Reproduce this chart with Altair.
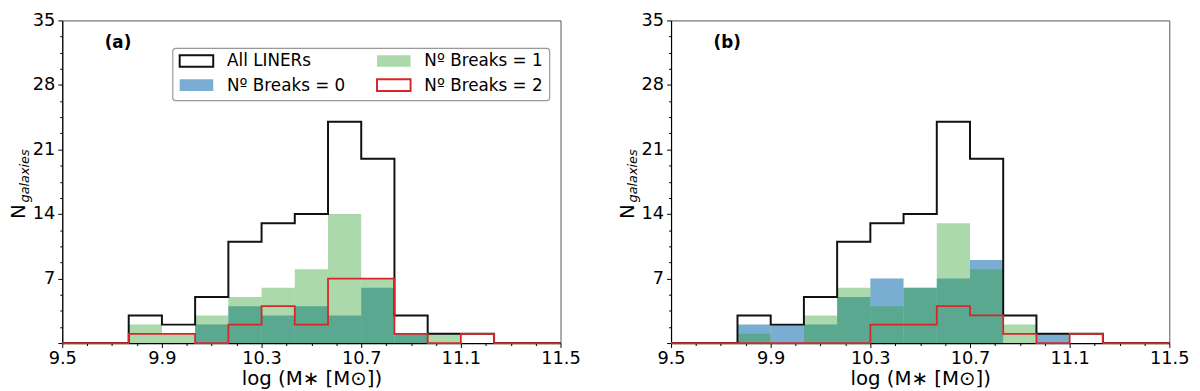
import altair as alt
import pandas as pd

# ---------------- data ----------------
bin_edges = [9.5, 9.6333, 9.7667, 9.9, 10.0333, 10.1667, 10.3, 10.4333,
             10.5667, 10.7, 10.8333, 10.9667, 11.1, 11.2333, 11.3667, 11.5]

# panel (a)
all_a = [0, 0, 3, 2, 5, 11, 13, 14, 24, 20, 3, 1, 1, 0, 0]
brk0_a = [0, 0, 0, 0, 2, 4, 3, 4, 3, 6, 1, 0, 0, 0, 0]
brk1_a = [0, 0, 2, 1, 3, 5, 6, 8, 14, 7, 1, 1, 0, 0, 0]
brk2_a = [0, 0, 1, 1, 0, 2, 4, 2, 7, 7, 1, 0, 1, 0, 0]

# panel (b)
all_b = [0, 0, 3, 2, 5, 11, 13, 14, 24, 20, 3, 1, 1, 0, 0]
brk0_b = [0, 0, 2, 2, 2, 5, 7, 6, 7, 9, 0, 1, 0, 0, 0]
brk1_b = [0, 0, 1, 0, 3, 6, 4, 6, 13, 8, 2, 0, 0, 0, 0]
brk2_b = [0, 0, 0, 0, 0, 0, 2, 2, 4, 3, 1, 0, 1, 0, 0]

x_major = [9.5, 9.9, 10.3, 10.7, 11.1, 11.5]
x_minor = [round(9.5 + 0.1 * i, 2) for i in range(21)]
y_major = [7, 14, 21, 28, 35]
y_minor = [1.75 * i for i in range(21)]

legend_labels = ["All LINERs", "Nº Breaks = 0", "Nº Breaks = 1", "Nº Breaks = 2"]
panel_labels = ["(a)", "(b)"]
x_title = "log (M∗ [M⊙])"

# ---------------- style ----------------
W, H = 505, 327
FONT = "DejaVu Sans"
BLUE = "#1f77b4"
GREEN = "#2ca02c"
RED = "#d62728"
BLACK = "#111111"
SY = H / 334.0

xscale = alt.Scale(domain=[9.5, 11.5], nice=False, zero=False)
yscale = alt.Scale(domain=[0, 35], nice=False)

x_test = "abs((datum.value - 9.5) / 0.4 - round((datum.value - 9.5) / 0.4)) < 0.01"
y_test = "datum.value % 7 == 0"

xaxis = alt.Axis(
    values=x_minor,
    labelExpr=f"({x_test}) ? format(datum.value, '.1f') : ''",
    tickSize={"condition": {"test": x_test, "value": 4.5}, "value": 2.5},
    labelFontSize=18, labelFont=FONT, labelColor="black", labelPadding=2,
    title=x_title, titleFontSize=20, titleFont=FONT, titleFontWeight="normal",
    titleColor="black", titlePadding=1,
    domainColor="black", domainWidth=1.2, tickColor="black", grid=False,
    labelOverlap=False, labelFlush=False,
)
yaxis = alt.Axis(
    values=y_minor,
    labelExpr=f"({y_test}) && datum.value > 0 ? format(datum.value, 'd') : ''",
    tickSize={"condition": {"test": y_test, "value": 4.5}, "value": 2.5},
    labelFontSize=18, labelFont=FONT, labelColor="black", labelPadding=3,
    title=None,
    domainColor="black", domainWidth=1.2, tickColor="black", grid=False,
    labelOverlap=False, labelFlush=False,
)


def bars_df(counts):
    return pd.DataFrame({"x0": bin_edges[:-1], "x1": bin_edges[1:], "n": counts})


def step_df(counts):
    return pd.DataFrame({"x0": bin_edges, "n": list(counts) + [counts[-1]]})


one = pd.DataFrame({"k": [0]})


def panel(all_c, b0, b1, b2, label, with_legend):
    blue = alt.Chart(bars_df(b0)).mark_rect(color=BLUE, opacity=0.6).encode(
        x=alt.X("x0:Q", scale=xscale, axis=xaxis),
        x2="x1:Q",
        y=alt.Y("n:Q", scale=yscale, axis=yaxis),
        y2=alt.datum(0),
    )
    green = alt.Chart(bars_df(b1)).mark_rect(color=GREEN, opacity=0.4).encode(
        x=alt.X("x0:Q", scale=xscale, axis=xaxis),
        x2="x1:Q",
        y=alt.Y("n:Q", scale=yscale, axis=yaxis),
        y2=alt.datum(0),
    )
    black = alt.Chart(step_df(all_c)).mark_line(
        interpolate="step-after", color=BLACK, strokeWidth=2).encode(
        x=alt.X("x0:Q", scale=xscale, axis=xaxis),
        y=alt.Y("n:Q", scale=yscale, axis=yaxis),
    )
    red = alt.Chart(step_df(b2)).mark_line(
        interpolate="step-after", color=RED, strokeWidth=1.8).encode(
        x=alt.X("x0:Q", scale=xscale, axis=xaxis),
        y=alt.Y("n:Q", scale=yscale, axis=yaxis),
    )
    plabel = alt.Chart(one).mark_text(
        font=FONT, fontSize=17, fontWeight="bold", align="left",
        baseline="middle", color="black").encode(
        x=alt.value(43), y=alt.value(23 * SY), text=alt.value(label))
    ytitle_n = alt.Chart(one).mark_text(
        font=FONT, fontSize=20, angle=270, align="center",
        baseline="middle", color="black").encode(
        x=alt.value(-44), y=alt.value(198 * SY), text=alt.value("N"))
    ytitle_sub = alt.Chart(one).mark_text(
        font=FONT, fontSize=13, fontStyle="italic", angle=270, align="center",
        baseline="middle", color="black").encode(
        x=alt.value(-38), y=alt.value(161 * SY), text=alt.value("galaxies"))

    layers = [blue, green, black, red, plabel, ytitle_n, ytitle_sub]

    if with_legend:
        box = alt.Chart(one).mark_rect(
            fill="white", fillOpacity=0.8, stroke="#999999", strokeWidth=1.2,
            cornerRadius=3).encode(
            x=alt.value(112), x2=alt.value(494),
            y=alt.value(29 * SY), y2=alt.value(83 * SY))
        layers.append(box)
        # swatches: (col x0, row y0, fill, fill opacity, stroke)
        sw = [
            (119, 36, "white", 1.0, BLACK),
            (119, 61, BLUE, 0.6, None),
            (319, 36, GREEN, 0.4, None),
            (319, 61, "white", 1.0, RED),
        ]
        for (sx, sy, fc, fo, sc), lab in zip(sw, legend_labels):
            kw = dict(fill=fc, fillOpacity=fo)
            if sc is not None:
                kw.update(stroke=sc, strokeWidth=2)
            layers.append(alt.Chart(one).mark_rect(**kw).encode(
                x=alt.value(sx), x2=alt.value(sx + 34),
                y=alt.value(sy * SY), y2=alt.value((sy + 12) * SY)))
            layers.append(alt.Chart(one).mark_text(
                font=FONT, fontSize=17, align="left", baseline="middle",
                color="black").encode(
                x=alt.value(sx + 48), y=alt.value((sy + 6.5) * SY),
                text=alt.value(lab)))

    return alt.layer(*layers).properties(width=W, height=H)


pa = panel(all_a, brk0_a, brk1_a, brk2_a, panel_labels[0], True)
pb = panel(all_b, brk0_b, brk1_b, brk2_b, panel_labels[1], False)

chart = alt.hconcat(pa, pb, spacing=36).properties(
    padding={"left": 0, "top": 0, "right": 2, "bottom": 0}
).configure_view(stroke="#555555", strokeWidth=1)

chart.save("out.html", embed_options={"renderer": "svg", "actions": False})
